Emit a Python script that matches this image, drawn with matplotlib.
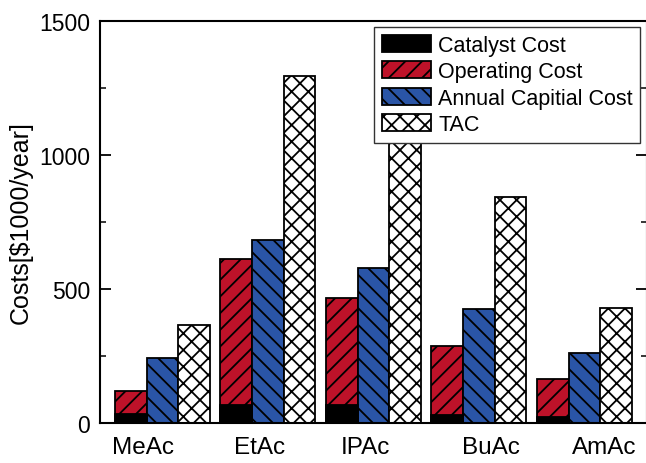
import numpy as np
import matplotlib
matplotlib.use("Agg")
import matplotlib.pyplot as plt
from matplotlib.ticker import MultipleLocator

plt.rcParams['font.family'] = ['Liberation Sans', 'DejaVu Sans']
plt.rcParams['hatch.linewidth'] = 1.3

# data ($1000/year)
esters = ['MeAc', 'EtAc', 'IPAc', 'BuAc', 'AmAc']
catalyst_cost = [33, 67, 67, 30, 24]
operating_cost = [120, 612, 465, 288, 164]
capital_cost = [241, 683, 577, 425, 261]
tac = [365, 1295, 1045, 842, 429]

# tick labels in the original sit a bit spread out from the groups
label_shift = [-0.18, -0.08, -0.08, 0.11, 0.19]

red = '#BE1229'
blue = '#2A55A6'

fig = plt.figure(figsize=(6.46, 4.64), dpi=100)
ax = fig.add_axes([0.1548, 0.0862, 0.8465, 0.8664])

x = np.arange(len(esters))
w = 0.3

ax.bar(x - w, operating_cost, w, color=red, edgecolor='black', hatch='//',
       linewidth=1.3, label='Operating Cost', zorder=2)
ax.bar(x - w, catalyst_cost, w, color='black', edgecolor='black',
       linewidth=1.3, label='Catalyst Cost', zorder=3)
ax.bar(x, capital_cost, w, color=blue, edgecolor='black', hatch='\\\\',
       linewidth=1.3, label='Annual Capitial Cost', zorder=2)
ax.bar(x + w, tac, w, color='white', edgecolor='black', hatch='xx',
       linewidth=1.3, label='TAC', zorder=2)

ax.set_xlim(-0.592, 4.592)
ax.set_ylim(0, 1500)
ax.yaxis.set_major_locator(MultipleLocator(500))
ax.yaxis.set_minor_locator(MultipleLocator(250))
ax.set_xticks(x + np.array(label_shift))
ax.set_xticklabels(esters, fontsize=17.5)
ax.tick_params(axis='x', length=0, pad=9)
ax.tick_params(axis='y', which='major', direction='in', length=8, width=1.3,
               right=True, labelsize=16.5, pad=7)
ax.tick_params(axis='y', which='minor', direction='in', length=4, width=1.1,
               right=True)
ax.set_ylabel('Costs[$1000/year]', fontsize=18, labelpad=5)

for s in ax.spines.values():
    s.set_linewidth(1.5)

handles, labels = ax.get_legend_handles_labels()
order = [1, 0, 2, 3]
leg = ax.legend([handles[i] for i in order], [labels[i] for i in order],
                loc='upper right', fontsize=15.5, fancybox=False, framealpha=1,
                edgecolor='#333333', borderaxespad=0.3, borderpad=0.35,
                handlelength=2.28, handleheight=0.84, handletextpad=0.33,
                labelspacing=0.25)
leg.get_frame().set_linewidth(1.0)
leg.set_zorder(5)

fig.savefig('out.png', dpi=100)
